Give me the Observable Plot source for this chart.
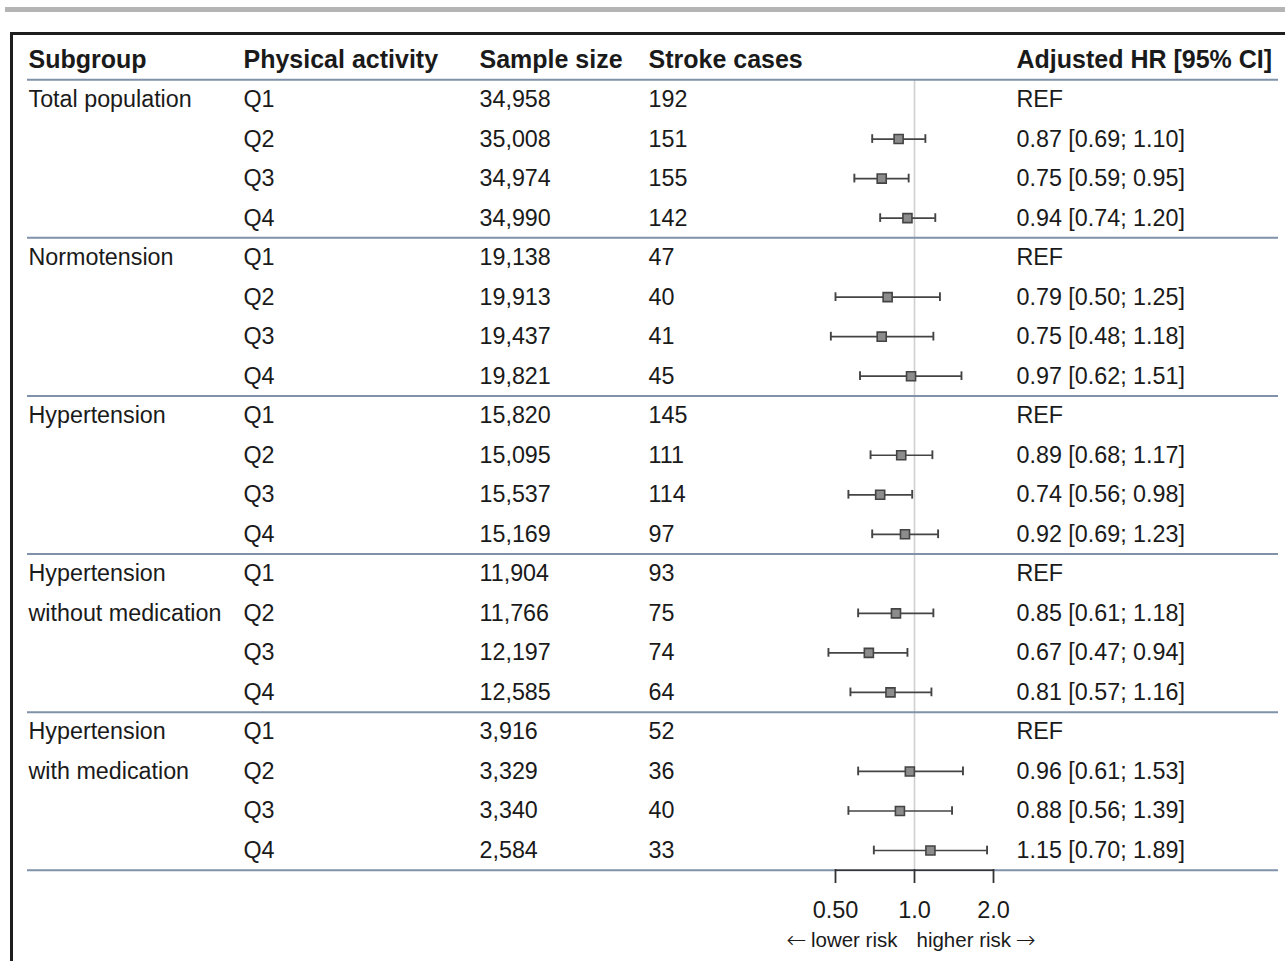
<!DOCTYPE html>
<html>
<head>
<meta charset="utf-8">
<script src="https://cdn.jsdelivr.net/npm/d3@7"></script>
<script src="https://cdn.jsdelivr.net/npm/@observablehq/plot@0.6"></script>
<style>
  html, body { margin: 0; padding: 0; background: #fff; }
  body { width: 1285px; height: 961px; position: relative; overflow: hidden; font-family: "Liberation Sans", Arial, sans-serif; }
  #topbar { position: absolute; left: 5px; top: 7px; width: 1280px; height: 5px; background: #b4b4b4; }
  #frame { position: absolute; left: 10px; top: 32px; width: 1290px; height: 940px; border-top: 3px solid #1e1e1e; border-left: 3px solid #1e1e1e; }
  #chart { position: absolute; left: 0; top: 0; }
</style>
</head>
<body>
<div id="topbar"></div>
<div id="frame"></div>
<div id="chart"></div>
<script>
// ---- data ----
const headers = ["Subgroup", "Physical activity", "Sample size", "Stroke cases", "Adjusted HR [95% CI]"];
const subgroupLines = [
  ["Total population"],
  ["Normotension"],
  ["Hypertension"],
  ["Hypertension", "without medication"],
  ["Hypertension", "with medication"]
];
const quartiles = ["Q1", "Q2", "Q3", "Q4"];
const sampleSize = [34958, 35008, 34974, 34990, 19138, 19913, 19437, 19821, 15820, 15095, 15537, 15169, 11904, 11766, 12197, 12585, 3916, 3329, 3340, 2584];
const strokeCases = [192, 151, 155, 142, 47, 40, 41, 45, 145, 111, 114, 97, 93, 75, 74, 64, 52, 36, 40, 33];
const hr    = [null, 0.87, 0.75, 0.94, null, 0.79, 0.75, 0.97, null, 0.89, 0.74, 0.92, null, 0.85, 0.67, 0.81, null, 0.96, 0.88, 1.15];
const lower = [null, 0.69, 0.59, 0.74, null, 0.50, 0.48, 0.62, null, 0.68, 0.56, 0.69, null, 0.61, 0.47, 0.57, null, 0.61, 0.56, 0.70];
const upper = [null, 1.10, 0.95, 1.20, null, 1.25, 1.18, 1.51, null, 1.17, 0.98, 1.23, null, 1.18, 0.94, 1.16, null, 1.53, 1.39, 1.89];
const xTicks = [0.5, 1, 2];
const riskLabels = ["lower risk", "higher risk"];
const riskArrows = ["\u2190", "\u2192"];

// ---- build table ----
const rows = [];
subgroupLines.forEach((lines, g) => {
  quartiles.forEach((q, j) => {
    const i = g * quartiles.length + j;
    rows.push({
      row: i,
      subgroup: lines[j] || "",
      quartile: q,
      n: sampleSize[i],
      cases: strokeCases[i],
      hr: hr[i], lo: lower[i], hi: upper[i],
      label: hr[i] == null ? "REF" : `${hr[i].toFixed(2)} [${lower[i].toFixed(2)}; ${upper[i].toFixed(2)}]`
    });
  });
});
const est = rows.filter(d => d.hr != null);
const separators = [-0.5, ...subgroupLines.map((_, g) => (g + 1) * quartiles.length - 0.5)];
const lastRow = rows.length - 1;
const fmt = d3.format(",");

const colX = [28, 243, 479, 648, 1016];
const W = 1285, H = 961;
const axisY = H - 92; // frame bottom = axis position
const txt = "#1a1a1a";
const bodySize = 23.3;

const columns = [
  d => d.subgroup,
  d => d.quartile,
  d => fmt(d.n),
  d => String(d.cases),
  d => d.label
];

const headerMarks = headers.map((h, k) =>
  Plot.text([h], {y: () => -1, text: d => d, frameAnchor: "left", textAnchor: "start", dx: colX[k], fontSize: 25, fontWeight: "bold", fill: txt})
);
const columnMarks = columns.map((f, k) =>
  Plot.text(rows, {y: "row", text: f, frameAnchor: "left", textAnchor: "start", dx: colX[k], fontSize: bodySize, fill: txt})
);

const chart = Plot.plot({
  width: W,
  height: H,
  marginTop: 0,
  marginLeft: 0,
  marginRight: 0,
  marginBottom: H - axisY,
  style: {background: "transparent", fontFamily: "'Liberation Sans', Arial, sans-serif", color: txt},
  x: {type: "log", domain: [0.5, 2], range: [835, 993], axis: null},
  y: {domain: [-1, lastRow], range: [59.5, 850], axis: null},
  marks: [
    // reference line at HR = 1
    Plot.ruleX([1], {y1: -0.5, y2: lastRow + 0.5, stroke: "#cfcfcf", strokeWidth: 1.6}),
    // separators
    Plot.ruleY(separators, {stroke: "#7f92aa", strokeWidth: 2, insetLeft: 27, insetRight: 7}),
    // axis line
    Plot.ruleY([lastRow + 0.5], {x1: xTicks[0], x2: xTicks[xTicks.length - 1], stroke: "#333", strokeWidth: 1.5}),
    Plot.axisX({
      anchor: "bottom", ticks: xTicks,
      tickFormat: d => d < 1 ? d.toFixed(2) : d.toFixed(1),
      tickSize: 14, tickPadding: 18, fontSize: 23.5, stroke: "#333", strokeWidth: 1.8, fill: txt
    }),
    Plot.text([riskLabels[0]], {x: () => 1, text: d => d, frameAnchor: "bottom", textAnchor: "end", dx: -17, dy: 77, fontSize: 20.5, fill: txt}),
    Plot.text([riskLabels[1]], {x: () => 1, text: d => d, frameAnchor: "bottom", textAnchor: "start", dx: 2, dy: 77, fontSize: 20.5, fill: txt}),
    Plot.text([riskArrows[0]], {x: () => 1, text: d => d, frameAnchor: "bottom", textAnchor: "end", dx: -108, dy: 78, fontSize: 24, fontFamily: "DejaVu Sans", fontWeight: 300, fill: txt}),
    Plot.text([riskArrows[1]], {x: () => 1, text: d => d, frameAnchor: "bottom", textAnchor: "start", dx: 101, dy: 78, fontSize: 24, fontFamily: "DejaVu Sans", fontWeight: 300, fill: txt}),
    // CI whiskers
    Plot.ruleY(est, {y: "row", x1: "lo", x2: "hi", stroke: "#444", strokeWidth: 1.7}),
    Plot.ruleX(est, {x: "lo", y1: d => d.row - 0.11, y2: d => d.row + 0.11, stroke: "#444", strokeWidth: 1.9}),
    Plot.ruleX(est, {x: "hi", y1: d => d.row - 0.11, y2: d => d.row + 0.11, stroke: "#444", strokeWidth: 1.9}),
    Plot.dot(est, {x: "hr", y: "row", symbol: "square", r: 5.1, fill: "#8c8c8c", stroke: "#444", strokeWidth: 1.6}),
    ...headerMarks,
    ...columnMarks
  ]
});
document.getElementById("chart").appendChild(chart);
</script>
</body>
</html>
